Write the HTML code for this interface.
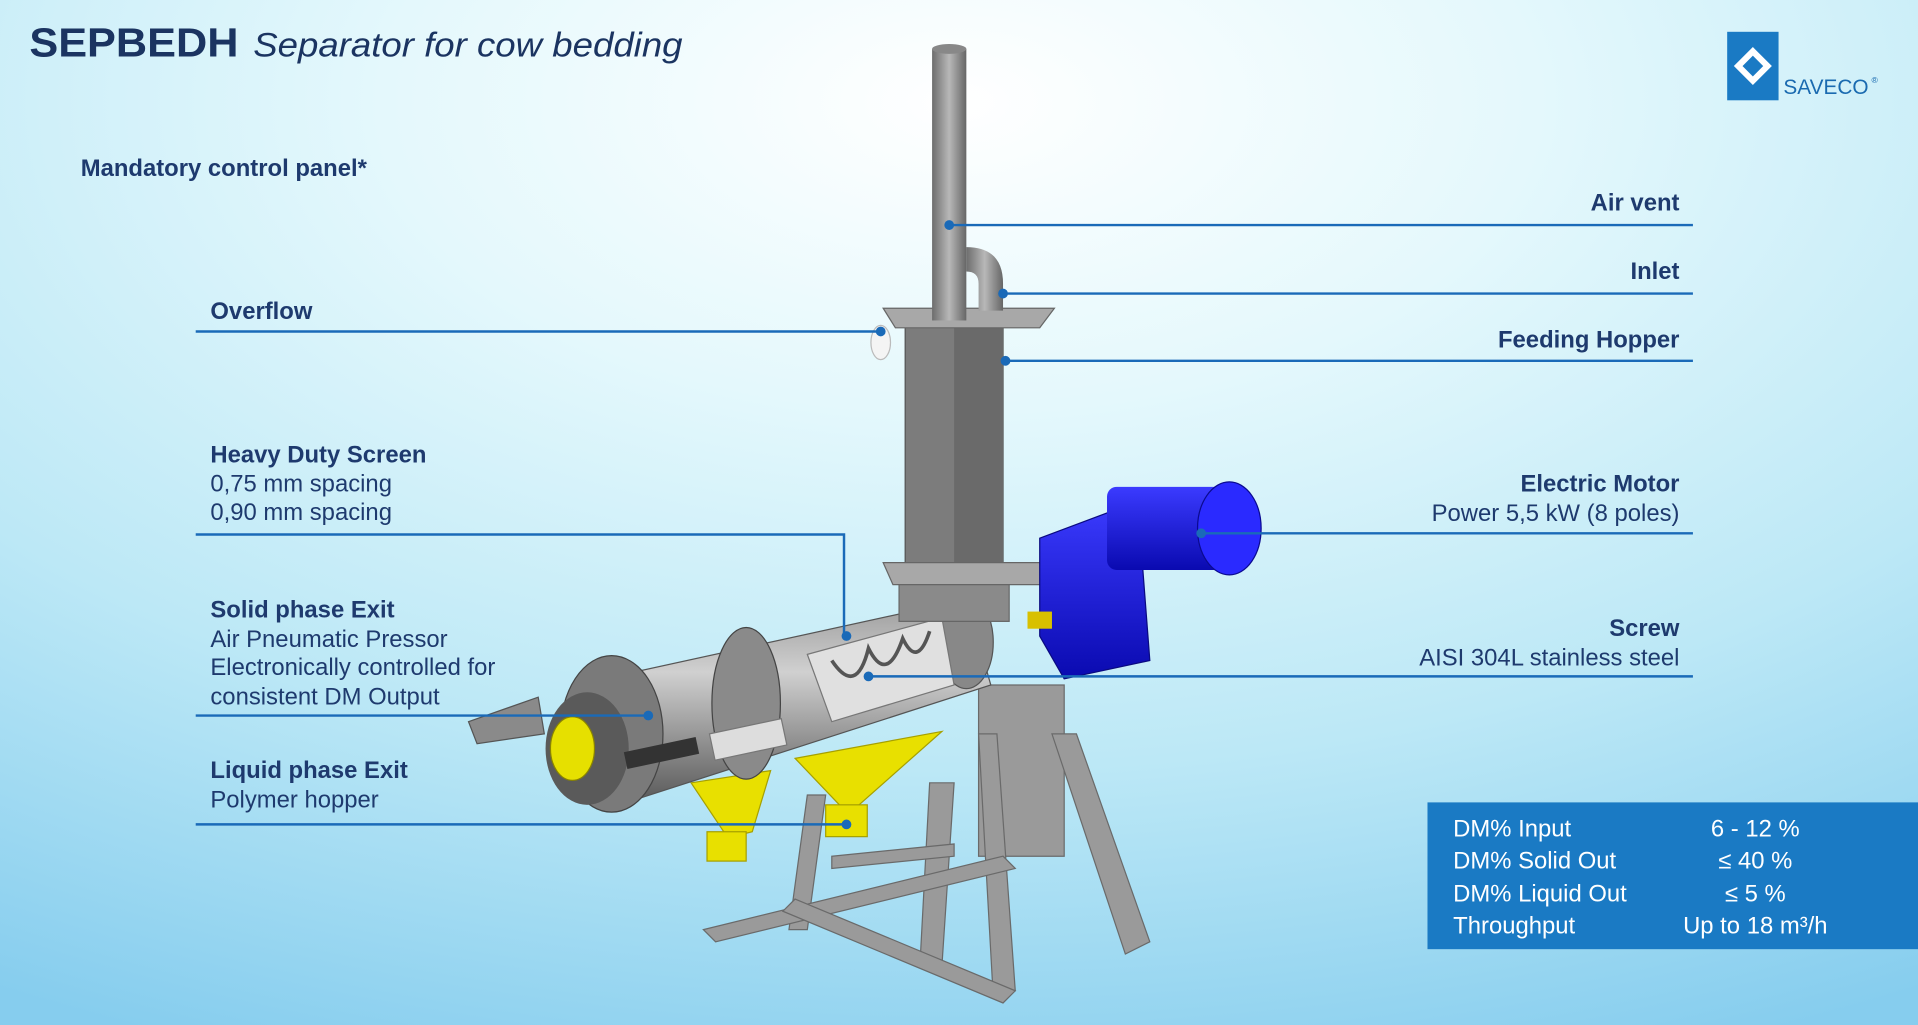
<!DOCTYPE html>
<html><head><meta charset="utf-8"><style>
html,body{margin:0;padding:0;width:1918px;height:1025px;overflow:hidden}
svg{display:block}
text{font-family:"Liberation Sans",sans-serif}
</style></head><body>
<svg width="1918" height="1025" viewBox="0 0 1568 838" preserveAspectRatio="none">
<defs>
<radialGradient id="bg" cx="0.5" cy="0.1" r="1.0">
<stop offset="0" stop-color="#ffffff"/><stop offset="0.3" stop-color="#e4f8fc"/><stop offset="0.65" stop-color="#bce8f6"/><stop offset="1" stop-color="#86cdee"/>
</radialGradient>
<linearGradient id="pipe" x1="0" x2="1"><stop offset="0" stop-color="#6d6d6d"/><stop offset="0.5" stop-color="#b8b8b8"/><stop offset="1" stop-color="#666"/></linearGradient>
<linearGradient id="cyl" x1="0" y1="0" x2="0" y2="1"><stop offset="0" stop-color="#9a9a9a"/><stop offset="0.35" stop-color="#d0d0d0"/><stop offset="1" stop-color="#555"/></linearGradient>
<linearGradient id="mot" x1="0" y1="0" x2="0" y2="1"><stop offset="0" stop-color="#3b3bff"/><stop offset="1" stop-color="#0a0ab0"/></linearGradient>
</defs>
<rect width="1568" height="838" fill="url(#bg)"/>
<!-- title -->
<text x="24" y="46" font-size="33" font-weight="bold" fill="#1b3461" textLength="171" lengthAdjust="spacingAndGlyphs">SEPBEDH</text>
<text x="207" y="46" font-size="28" font-style="italic" fill="#1b3461" textLength="351" lengthAdjust="spacingAndGlyphs">Separator for cow bedding</text>
<!-- logo -->
<rect x="1412" y="26" width="42" height="56" fill="#1a7ac4"/>
<path d="M1433 42 l12 12 -12 12 -12 -12z" fill="none" stroke="#fff" stroke-width="5"/>
<text x="1458" y="77" font-size="17" fill="#1a6ab0">SAVECO</text>
<text x="1530" y="68" font-size="7" fill="#1a6ab0">®</text>
<text x="66" y="144" font-size="19.5" font-weight="bold" fill="#1e3a6e">Mandatory control panel*</text>
<!-- machine: stand -->
<g fill="#9a9a9a" stroke="#6a6a6a" stroke-width="1">
<polygon points="800,560 870,560 870,700 800,700"/>
<polygon points="860,600 880,600 940,770 920,780"/>
<polygon points="800,600 815,600 830,810 812,815"/>
<polygon points="660,650 675,650 660,760 645,760"/>
<polygon points="760,640 780,640 770,790 752,790"/>
<polygon points="575,760 820,700 830,710 585,770"/>
<polygon points="650,735 830,810 820,820 640,745"/>
<polygon points="680,700 780,690 780,700 680,710"/>
</g>
<!-- yellow hoppers -->
<polygon points="565,640 630,630 615,680 595,685" fill="#e8e000" stroke="#a6a000"/>
<rect x="578" y="680" width="32" height="24" fill="#e8e000" stroke="#a6a000"/>
<polygon points="650,620 770,598 700,660 690,662" fill="#e8e000" stroke="#a6a000"/>
<rect x="675" y="658" width="34" height="26" fill="#e8e000" stroke="#a6a000"/>
<!-- main cylinder -->
<polygon points="470,560 790,490 810,560 500,660" fill="url(#cyl)" stroke="#555"/>
<ellipse cx="790" cy="525" rx="22" ry="38" fill="#888" stroke="#555"/>
<ellipse cx="610" cy="575" rx="28" ry="62" fill="#8a8a8a" stroke="#444"/>
<polygon points="660,535 770,505 780,560 680,590" fill="#e0e0e0" stroke="#777"/>
<path d="M680 540 q20 30 30 -10 q15 30 28 -8 q12 25 22 -6" fill="none" stroke="#555" stroke-width="3"/>
<ellipse cx="500" cy="600" rx="42" ry="64" fill="#7a7a7a" stroke="#444"/>
<ellipse cx="480" cy="612" rx="34" ry="46" fill="#5a5a5a"/>
<ellipse cx="468" cy="612" rx="18" ry="26" fill="#e6e000" stroke="#8a8400"/>
<polygon points="383,590 440,570 445,600 390,608" fill="#8a8a8a" stroke="#555"/>
<rect x="510" y="615" width="60" height="14" fill="#333" transform="rotate(-12 510 615)"/>
<rect x="580" y="600" width="60" height="22" fill="#ddd" stroke="#777" transform="rotate(-12 580 600)"/>
<!-- hopper -->
<rect x="740" y="262" width="80" height="205" fill="#7c7c7c" stroke="#555"/>
<rect x="780" y="262" width="40" height="205" fill="#6a6a6a"/>
<polygon points="722,252 862,252 850,268 732,268" fill="#a8a8a8" stroke="#666"/>
<polygon points="722,460 860,460 852,478 730,478" fill="#a8a8a8" stroke="#666"/>
<rect x="735" y="478" width="90" height="30" fill="#8a8a8a" stroke="#666"/>
<ellipse cx="720" cy="280" rx="8" ry="14" fill="#f4f4f4" stroke="#bbb"/>
<!-- pipes -->
<rect x="762" y="40" width="28" height="222" fill="url(#pipe)"/>
<ellipse cx="776" cy="40" rx="14" ry="4" fill="#888"/>
<path d="M790 202 q30 0 30 30 v22 h-20 v-22 q0 -10 -10 -10z" fill="url(#pipe)"/>
<!-- motor -->
<polygon points="850,440 930,410 940,540 870,555 850,520" fill="url(#mot)" stroke="#0a0a80"/>
<rect x="905" y="398" width="95" height="68" rx="8" fill="url(#mot)"/>
<ellipse cx="1005" cy="432" rx="26" ry="38" fill="#2a2aff" stroke="#0a0a90"/>
<rect x="840" y="500" width="20" height="14" fill="#d8c000"/>
<!-- callout lines -->
<g stroke="#1a6ab8" stroke-width="2" fill="none">
<path d="M776 184H1384"/><path d="M820 240H1384"/><path d="M822 295H1384"/>
<path d="M160 271H720"/><path d="M160 437H690V520"/><path d="M982 436H1384"/>
<path d="M160 585H530"/><path d="M710 553H1384"/><path d="M160 674H692"/>
</g>
<g fill="#1a6ab8">
<circle cx="776" cy="184" r="4"/><circle cx="820" cy="240" r="4"/><circle cx="822" cy="295" r="4"/>
<circle cx="720" cy="271" r="4"/><circle cx="692" cy="520" r="4"/><circle cx="982" cy="436" r="4"/>
<circle cx="530" cy="585" r="4"/><circle cx="710" cy="553" r="4"/><circle cx="692" cy="674" r="4"/>
</g>
<!-- labels -->
<g font-size="19.5" fill="#1e3a6e">
<text x="1373" y="172" text-anchor="end" font-weight="bold">Air vent</text>
<text x="1373" y="228" text-anchor="end" font-weight="bold">Inlet</text>
<text x="1373" y="284" text-anchor="end" font-weight="bold">Feeding Hopper</text>
<text x="172" y="261" font-weight="bold">Overflow</text>
<text x="172" y="378" font-weight="bold">Heavy Duty Screen</text>
<text x="172" y="402">0,75 mm spacing</text>
<text x="172" y="425">0,90 mm spacing</text>
<text x="1373" y="402" text-anchor="end" font-weight="bold">Electric Motor</text>
<text x="1373" y="426" text-anchor="end">Power 5,5 kW (8 poles)</text>
<text x="172" y="505" font-weight="bold">Solid phase Exit</text>
<text x="172" y="529">Air Pneumatic Pressor</text>
<text x="172" y="552">Electronically controlled for</text>
<text x="172" y="576">consistent DM Output</text>
<text x="1373" y="520" text-anchor="end" font-weight="bold">Screw</text>
<text x="1373" y="544" text-anchor="end">AISI 304L stainless steel</text>
<text x="172" y="636" font-weight="bold">Liquid phase Exit</text>
<text x="172" y="660">Polymer hopper</text>
</g>
<!-- table -->
<rect x="1167" y="656" width="401" height="120" fill="#1a7ac4"/>
<g font-size="19.5" fill="#fff">
<text x="1188" y="684">DM% Input</text><text x="1435" y="684" text-anchor="middle">6 - 12 %</text>
<text x="1188" y="710">DM% Solid Out</text><text x="1435" y="710" text-anchor="middle">≤ 40 %</text>
<text x="1188" y="737">DM% Liquid Out</text><text x="1435" y="737" text-anchor="middle">≤ 5 %</text>
<text x="1188" y="763">Throughput</text><text x="1435" y="763" text-anchor="middle">Up to 18 m³/h</text>
</g>
</svg>
</body></html>
